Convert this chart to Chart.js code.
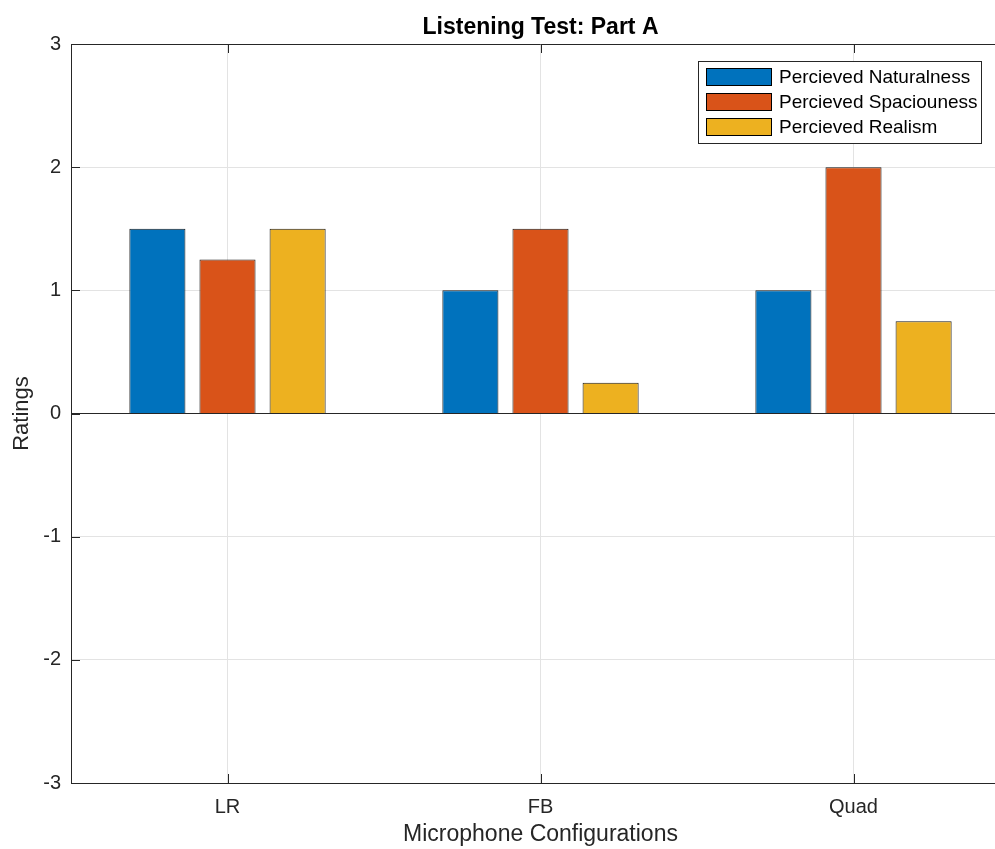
<!DOCTYPE html>
<html>
<head>
<meta charset="utf-8">
<script src="https://cdn.jsdelivr.net/npm/chart.js@4.4.1/dist/chart.umd.min.js"></script>
<style>
  html, body { margin: 0; padding: 0; overflow: hidden; background: #fff; }
  #wrap { position: absolute; left: 0; top: 0; width: 1012px; height: 849px; }
</style>
</head>
<body>
<div id="wrap"><canvas id="barChart"></canvas></div>
<script>
const configs = ['LR', 'FB', 'Quad'];
const naturalness = [1.5, 1, 1];
const spaciousness = [1.25, 1.5, 2];
const realism = [1.5, 0.25, 0.75];

const axisColor = '#262626';
const gridColor = '#e3e3e3';
const fontFamily = '"Liberation Sans", Arial, Helvetica, sans-serif';

// MATLAB style frame: top line plus inward tick marks
const framePlugin = {
    id: 'frame',
    afterDatasetsDraw(chart) {
        const ctx = chart.ctx;
        const area = chart.chartArea;
        const xs = chart.scales.x;
        const ys = chart.scales.y;
        ctx.save();
        ctx.strokeStyle = axisColor;
        ctx.lineWidth = 1;
        ctx.beginPath();
        ctx.moveTo(area.left, area.top + 0.5);
        ctx.lineTo(area.right, area.top + 0.5);
        ctx.stroke();
        ctx.beginPath();
        ys.ticks.forEach((t, i) => {
            const y = Math.round(ys.getPixelForTick(i)) + 0.5;
            ctx.moveTo(area.left, y);
            ctx.lineTo(area.left + 9, y);
        });
        xs.ticks.forEach((t, i) => {
            const x = Math.round(xs.getPixelForTick(i)) + 0.5;
            ctx.moveTo(x, area.bottom);
            ctx.lineTo(x, area.bottom - 9);
            ctx.moveTo(x, area.top);
            ctx.lineTo(x, area.top + 9);
        });
        ctx.stroke();
        ctx.restore();
    }
};

// legend box inside the axes, top right
const boxLegend = {
    id: 'boxLegend',
    afterDraw(chart) {
        const ctx = chart.ctx;
        const x0 = 698.5, y0 = 61.5, w = 283, h = 82;
        ctx.save();
        ctx.fillStyle = '#fff';
        ctx.fillRect(x0, y0, w, h);
        ctx.strokeStyle = axisColor;
        ctx.lineWidth = 1;
        ctx.strokeRect(x0, y0, w, h);
        ctx.font = '19px ' + fontFamily;
        ctx.textBaseline = 'middle';
        chart.data.datasets.forEach((ds, i) => {
            const cy = 77 + i * 25;
            ctx.fillStyle = ds.backgroundColor;
            ctx.fillRect(706.5, cy - 8.5, 65, 17);
            ctx.strokeStyle = '#000';
            ctx.strokeRect(706.5, cy - 8.5, 65, 17);
            ctx.fillStyle = '#000';
            ctx.fillText(ds.label, 779, cy + 1);
        });
        ctx.restore();
    }
};

const ctx = document.getElementById('barChart').getContext('2d');
const myChart = new Chart(ctx, {
    type: 'bar',
    data: {
        labels: configs,
        datasets: [
            { label: 'Percieved Naturalness', data: naturalness, backgroundColor: '#0072BD' },
            { label: 'Percieved Spaciouness', data: spaciousness, backgroundColor: '#D95319' },
            { label: 'Percieved Realism', data: realism, backgroundColor: '#EDB120' }
        ]
    },
    options: {
        responsive: true,
        maintainAspectRatio: false,
        animation: false,
        datasets: {
            bar: {
                borderColor: '#1a1a1a',
                borderWidth: 1,
                categoryPercentage: 0.672,
                barPercentage: 0.8
            }
        },
        layout: { padding: { left: 0, right: 2, top: 0, bottom: 0 } },
        scales: {
            x: {
                offset: true,
                afterFit(scale) { scale.height = 66; },
                grid: { offset: false, color: gridColor, drawTicks: false },
                border: { color: axisColor },
                ticks: { color: axisColor, padding: 12, font: { family: fontFamily, size: 20 } },
                title: {
                    display: true,
                    text: 'Microphone Configurations',
                    color: axisColor,
                    font: { family: fontFamily, size: 23 },
                    padding: { top: 0, bottom: 1 }
                }
            },
            y: {
                min: -3,
                max: 3,
                afterFit(scale) { scale.width = 71; },
                grid: {
                    drawTicks: false,
                    color: (c) => c.tick && c.tick.value === 0 ? axisColor : gridColor
                },
                border: { color: axisColor },
                ticks: {
                    stepSize: 1,
                    color: axisColor,
                    padding: 10,
                    font: { family: fontFamily, size: 20 }
                },
                title: {
                    display: true,
                    text: 'Ratings',
                    color: axisColor,
                    font: { family: fontFamily, size: 22 },
                    padding: { top: 9, bottom: 0 }
                }
            }
        },
        plugins: {
            legend: { display: false },
            tooltip: { enabled: false },
            title: {
                display: true,
                fullSize: false,
                text: 'Listening Test: Part A',
                color: '#000',
                font: { family: fontFamily, size: 23, weight: 'bold' },
                padding: { top: 14, bottom: 2.4 }
            }
        }
    },
    plugins: [framePlugin, boxLegend]
});
</script>
</body>
</html>
